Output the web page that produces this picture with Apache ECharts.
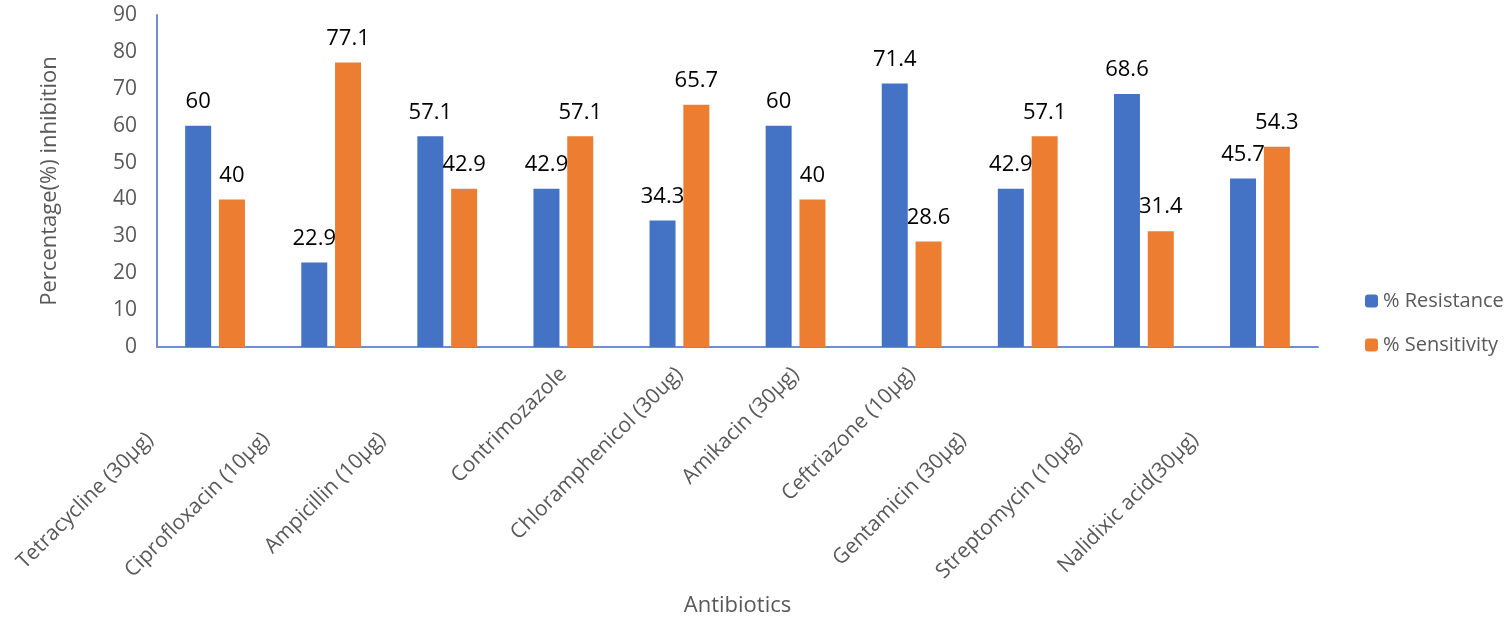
<!DOCTYPE html>
<html>
<head>
<meta charset="utf-8">
<script src="https://cdn.jsdelivr.net/npm/echarts@6/dist/echarts.min.js"></script>
<style>html,body{margin:0;padding:0;background:#fff}#c{width:1512px;height:625px}</style>
</head>
<body>
<div id="c"></div>
<script>
const categories = ['Tetracycline (30µg)', 'Ciprofloxacin (10µg)', 'Ampicillin (10µg)', 'Contrimozazole', 'Chloramphenicol (30ug)', 'Amikacin (30µg)', 'Ceftriazone (10µg)', 'Gentamicin (30µg)', 'Streptomycin (10µg)', 'Nalidixic acid(30µg)'];
const resistance = [60, 22.9, 57.1, 42.9, 34.3, 60, 71.4, 42.9, 68.6, 45.7];
const sensitivity = [40, 77.1, 42.9, 57.1, 65.7, 40, 28.6, 57.1, 31.4, 54.3];
const shiftedLabels = [true, true, true, false, false, false, false, true, true, true];
const yTicks = [0, 10, 20, 30, 40, 50, 60, 70, 80, 90];

const FONT = '"Open Sans", sans-serif';
const GRAY = '#595959';
const chart = echarts.init(document.getElementById('c'));
chart.setOption({
  animation: false,
  grid: { left: 157, right: 194, top: 15, bottom: 278, containLabel: false },
  legend: {
    orient: 'vertical', left: 1360, top: 286,
    itemWidth: 13, itemHeight: 13, itemGap: 24,
    textStyle: { fontFamily: FONT, fontSize: 20, color: GRAY },
    data: ['% Resistance', '% Sensitivity']
  },
  xAxis: {
    type: 'category',
    data: categories.map((c, i) => ({ value: c, textStyle: { padding: [0, shiftedLabels[i] ? 92 : 0, 0, 0] } })),
    name: 'Antibiotics', nameLocation: 'middle', nameGap: 248,
    nameTextStyle: { fontFamily: FONT, fontSize: 22, color: GRAY },
    axisLine: { lineStyle: { color: '#6F8FD3', width: 2 } },
    axisTick: { show: false },
    axisLabel: { rotate: 45, interval: 0, margin: 24, fontFamily: FONT, fontSize: 21, color: GRAY }
  },
  yAxis: {
    type: 'value', min: yTicks[0], max: yTicks[yTicks.length - 1], interval: 10,
    name: 'Percentage(%) inhibition', nameLocation: 'middle', nameGap: 96,
    nameTextStyle: { fontFamily: FONT, fontSize: 22, color: GRAY },
    axisLine: { show: true, lineStyle: { color: '#6F8FD3', width: 2 } },
    axisTick: { show: false },
    splitLine: { show: false },
    axisLabel: { margin: 20, fontFamily: FONT, fontSize: 21, color: GRAY }
  },
  series: [
    {
      name: '% Resistance', type: 'bar', data: resistance, barWidth: 26, barGap: '30%',
      itemStyle: { color: '#4472C4' },
      label: { show: true, position: 'top', distance: 13, fontFamily: FONT, fontSize: 22, color: '#000' }
    },
    {
      name: '% Sensitivity', type: 'bar', data: sensitivity, barWidth: 26,
      itemStyle: { color: '#ED7D31' },
      label: { show: true, position: 'top', distance: 13, fontFamily: FONT, fontSize: 22, color: '#000' }
    }
  ]
});
</script>
</body>
</html>
